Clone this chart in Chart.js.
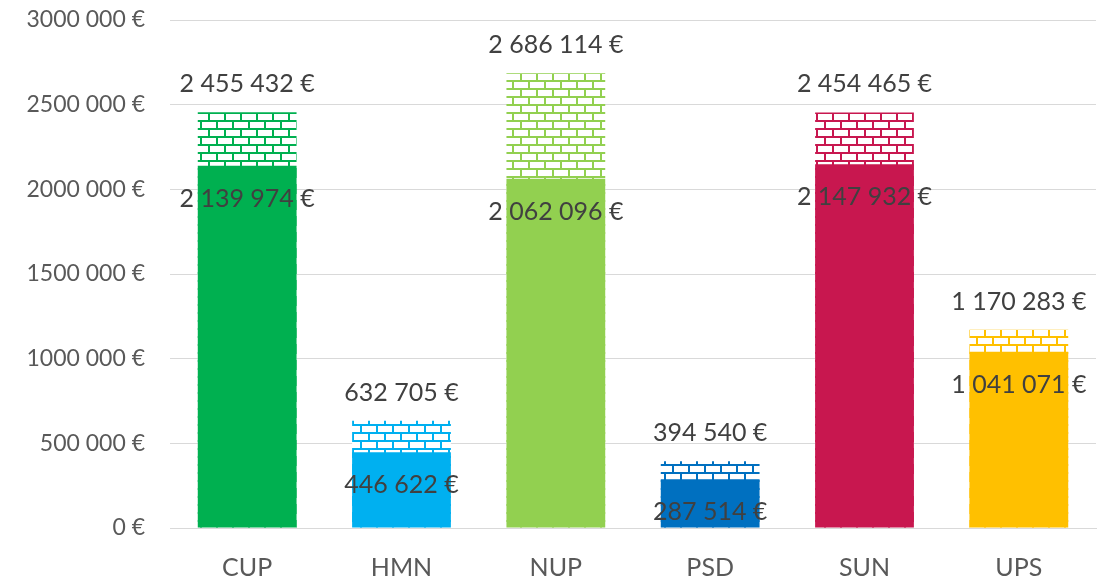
<!DOCTYPE html>
<html><head><meta charset="utf-8">
<script src="https://cdn.jsdelivr.net/npm/chart.js@4/dist/chart.umd.min.js"></script>
<style>html,body{margin:0;padding:0;background:#fff}#wrap{width:1109px;height:579px}</style>
</head><body><div id="wrap"><canvas id="c" width="1109" height="579"></canvas></div>
<script>
const categories = ['CUP', 'HMN', 'NUP', 'PSD', 'SUN', 'UPS'];
const totalValues = [2455432, 632705, 2686114, 394540, 2454465, 1170283];
const solidValues = [2139974, 446622, 2062096, 287514, 2147932, 1041071];
const barColors = ['#00b050', '#00b0f0', '#92d050', '#0070c0', '#c8174f', '#ffc000'];
const yTicks = [0, 500000, 1000000, 1500000, 2000000, 2500000, 3000000];

const FONT = 'Lato, "Open Sans", sans-serif';

function brick(color) {
  const c = document.createElement('canvas');
  c.width = 16; c.height = 16;
  const g = c.getContext('2d');
  g.fillStyle = '#ffffff'; g.fillRect(0, 0, 16, 16);
  g.fillStyle = color;
  g.fillRect(0, 0, 16, 2);
  g.fillRect(0, 8, 16, 2);
  g.fillRect(0, 0, 2, 8);
  g.fillRect(8, 8, 2, 8);
  return g.createPattern(c, 'repeat');
}
function fmtLabel(v) {
  return String(v).replace(/\B(?=(\d{3})+(?!\d))/g, ' ') + ' €';
}
function fmtTick(v) {
  if (v < 1000) return v + ' €';
  const hi = Math.floor(v / 1000), lo = v % 1000;
  return hi + ' ' + String(lo).padStart(3, '0') + ' €';
}

const labelPlugin = {
  id: 'barLabels',
  afterDatasetsDraw(chart) {
    const ctx = chart.ctx;
    ctx.save();
    ctx.font = '25px ' + FONT;
    ctx.fillStyle = '#404040';
    ctx.textAlign = 'center';
    ctx.textBaseline = 'middle';
    chart.getDatasetMeta(1).data.forEach((bar, i) => {
      ctx.fillText(fmtLabel(totalValues[i]), bar.x, bar.y - 28);
    });
    chart.getDatasetMeta(0).data.forEach((bar, i) => {
      ctx.fillText(fmtLabel(solidValues[i]), bar.x, bar.y + 33);
    });
    ctx.restore();
  }
};

new Chart(document.getElementById('c'), {
  type: 'bar',
  data: {
    labels: categories,
    datasets: [
      { label: 'solid', data: solidValues, backgroundColor: barColors, order: 1,
        categoryPercentage: 1, barPercentage: 0.64 },
      { label: 'total', data: totalValues, backgroundColor: barColors.map(brick), order: 2,
        categoryPercentage: 1, barPercentage: 0.64 }
    ]
  },
  options: {
    responsive: false,
    animation: false,
    events: [],
    layout: { padding: { left: 0, right: 13, top: 20, bottom: 0 } },
    plugins: { legend: { display: false }, tooltip: { enabled: false } },
    scales: {
      x: {
        stacked: true,
        grid: { display: false, drawTicks: false },
        border: { display: true, color: '#d9d9d9', width: 1 },
        ticks: { color: '#595959', font: { family: FONT, size: 25 }, padding: 25 },
        afterFit(s) { s.height = 51; s.paddingLeft = 0; s.paddingRight = 0; }
      },
      y: {
        stacked: false,
        min: 0, max: 3000000,
        afterBuildTicks(s) { s.ticks = yTicks.map(v => ({ value: v })); },
        grid: { color: '#d9d9d9', drawTicks: false },
        border: { display: false },
        ticks: { color: '#595959', font: { family: FONT, size: 23 }, padding: 25,
          callback: v => fmtTick(v) },
        afterFit(s) { s.width = 170; s.paddingTop = 0; s.paddingBottom = 0; }
      }
    }
  },
  plugins: [labelPlugin]
});
</script>
</body></html>
